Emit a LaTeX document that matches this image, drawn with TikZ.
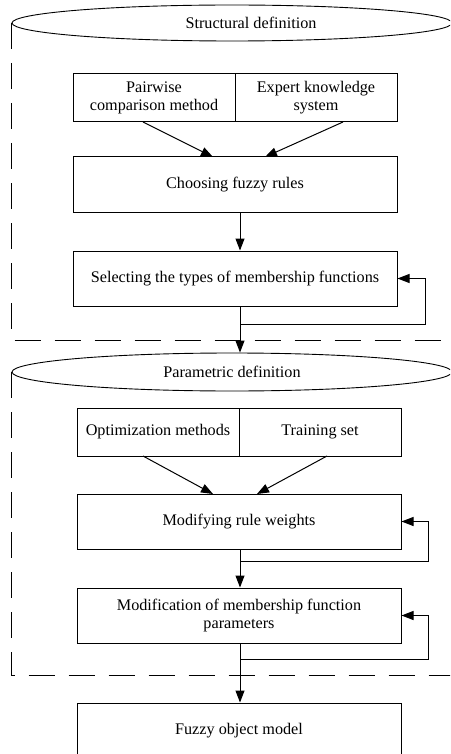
\documentclass[tikz,border=0pt]{standalone}
\usepackage{fontspec}
\setmainfont{Liberation Serif}
\usetikzlibrary{arrows.meta,shapes.geometric}
\begin{document}
\begin{tikzpicture}[x=1pt,y=-1pt,
  box/.style={draw,line width=1pt,inner sep=2pt,align=center,font=\fontsize{16.2}{18}\selectfont,minimum height=55pt,minimum width=324pt},
  half/.style={draw,line width=1pt,inner sep=2pt,align=center,font=\fontsize{16.2}{18}\selectfont,minimum height=48pt,minimum width=162pt},
  hdr/.style={draw,ellipse,line width=0.9pt,inner sep=0pt,font=\fontsize{16.2}{18}\selectfont,minimum width=440pt},
  arr/.style={line width=1pt,-{Triangle[length=12pt,width=9pt]}},
  frame/.style={line width=1pt,dash pattern=on 26pt off 14pt}]
\useasboundingbox (0,0) rectangle (450,754);
\clip (0,0) rectangle (450,754);
% section 1
\node[hdr,minimum height=36pt,label={[font=\fontsize{16.2}{18}\selectfont,xshift=19pt]center:Structural definition}] (e1) at (232,23) {};
\node[half] (pw) at (154,98) {Pairwise\\comparison method};
\node[half] (ek) at (316,98) {Expert knowledge\\system};
\node[box] (ch) at (235,184.5) {Choosing fuzzy rules};
\node[box] (sel) at (235,278.5) {Selecting the types of membership functions};
\coordinate (spine) at (240,0);
\coordinate (d1) at (452,340);
\coordinate (f1) at (425,324);
% section 2
\node[hdr,minimum height=38pt] (e2) at (232,372) {Parametric definition};
\node[half] (om) at (158,432) {Optimization methods};
\node[half] (ts) at (320,432) {Training set};
\node[box] (mw) at (239,521.5) {Modifying rule weights};
\node[box] (mf) at (239,615.5) {Modification of membership function\\parameters};
\node[box] (fo) at (239,730.5) {Fuzzy object model};
\coordinate (d2) at (452,675);
\coordinate (f2) at (428,561);
\coordinate (f3) at (428,659);
% frames
\draw[frame] (e1.west) |- (d1);
\draw[frame] (e2.west) |- (d2);
% arrows section 1
\draw[arr] (143,122) -- (213,157);
\draw[arr] (343,122) -- (265,157);
\draw[arr] (ch.south -| spine) -- (sel.north -| spine);
\draw[arr] (sel.south -| spine) |- (f1) |- (sel.east);
\draw[arr] (sel.south -| spine) -- (e2.north -| spine);
% arrows section 2
\draw[arr] (143,456) -- (213,494);
\draw[arr] (327,456) -- (257,494);
\draw[arr] (mw.south -| spine) |- (f2) |- (mw.east);
\draw[arr] (mw.south -| spine) -- (mf.north -| spine);
\draw[arr] (mf.south -| spine) |- (f3) |- (mf.east);
\draw[arr] (mf.south -| spine) -- (fo.north -| spine);
\end{tikzpicture}
\end{document}
